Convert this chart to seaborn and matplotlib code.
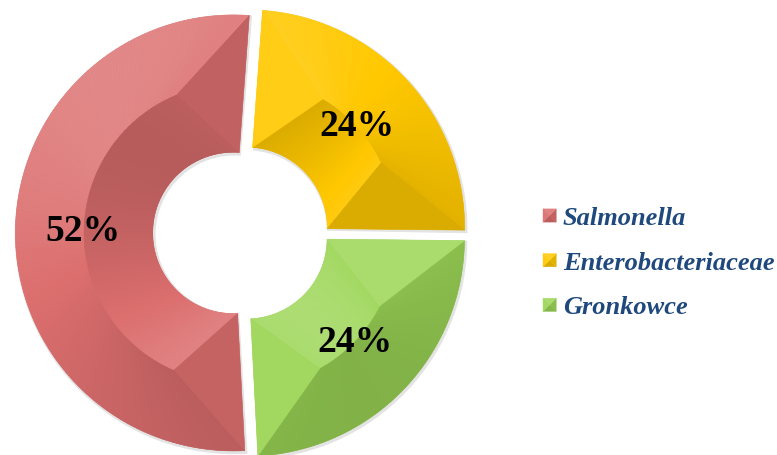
import numpy as np
import matplotlib
matplotlib.use("Agg")
import matplotlib.pyplot as plt
from matplotlib.patches import Polygon, Wedge
from matplotlib.colors import to_rgb
from matplotlib.legend_handler import HandlerBase
import seaborn as sns

# dane
categories = ["Salmonella", "Enterobacteriaceae", "Gronkowce"]
shares = [52, 24, 24]
colors = ["#DC6E6E", "#FFC800", "#9CD656"]

sns.set_theme(style="white")
plt.rcParams["font.family"] = ["Liberation Serif", "DejaVu Serif"]

LIGHT = np.array([-0.4, 0.6, 0.7])
LIGHT = LIGHT / np.linalg.norm(LIGHT)
TILT = np.radians(42)


def shade(base, nx, ny):
    n = np.array([nx * np.sin(TILT), ny * np.sin(TILT), np.cos(TILT)])
    k = 0.82 + 0.28 * max(n @ LIGHT, 0)
    rgb = np.array(to_rgb(base))
    if k <= 1:
        return tuple(rgb * k)
    return tuple(rgb + (1 - rgb) * (k - 1) * 1.8)


def pt(c, r, a):
    a = np.radians(a)
    return (c[0] + r * np.cos(a), c[1] + r * np.sin(a))


def bevel(ax, w, base):
    c, r_out, t1, t2 = w.center, w.r, w.theta1, w.theta2
    r_in = r_out - w.width
    rm = (r_out + r_in) / 2
    d = np.degrees((w.width / 2) / rm)
    n = max(int(t2 - t1), 10)
    a = np.linspace(t1, t2, n + 1)
    b = np.linspace(t1 + d, t2 - d, n + 1)
    for i in range(n):
        phi = np.radians((a[i] + a[i + 1]) / 2)
        # zewnetrzna sciana
        col = shade(base, np.cos(phi), np.sin(phi))
        ax.add_patch(Polygon([pt(c, r_out, a[i]), pt(c, r_out, a[i + 1]),
                              pt(c, rm, b[i + 1]), pt(c, rm, b[i])],
                             fc=col, ec=col, lw=0.4))
        # wewnetrzna sciana
        col = shade(base, -np.cos(phi), -np.sin(phi))
        ax.add_patch(Polygon([pt(c, r_in, a[i]), pt(c, r_in, a[i + 1]),
                              pt(c, rm, b[i + 1]), pt(c, rm, b[i])],
                             fc=col, ec=col, lw=0.4))
    # trojkaty na koncach
    p1 = np.radians(t1)
    col = shade(base, np.sin(p1), -np.cos(p1))
    ax.add_patch(Polygon([pt(c, r_out, t1), pt(c, r_in, t1), pt(c, rm, t1 + d)],
                         fc=col, ec=col, lw=0.4))
    p2 = np.radians(t2)
    col = shade(base, -np.sin(p2), np.cos(p2))
    ax.add_patch(Polygon([pt(c, r_out, t2), pt(c, r_in, t2), pt(c, rm, t2 - d)],
                         fc=col, ec=col, lw=0.4))


class BevelHandler(HandlerBase):
    def create_artists(self, legend, orig_handle, xdescent, ydescent,
                       width, height, fontsize, trans):
        base = orig_handle.get_facecolor()[:3]
        s = min(width, height)
        x0 = -xdescent
        y0 = -ydescent + (height - s) / 2
        cxy = (x0 + s / 2, y0 + s / 2)
        corners = [(x0, y0), (x0 + s, y0), (x0 + s, y0 + s), (x0, y0 + s)]
        normals = [(0, -1), (1, 0), (0, 1), (-1, 0)]
        arts = []
        for i, (nx, ny) in enumerate(normals):
            col = shade(base, nx, ny)
            p = Polygon([corners[i], corners[(i + 1) % 4], cxy],
                        fc=col, ec=col, lw=0.3, transform=trans)
            arts.append(p)
        return arts


fig = plt.figure(figsize=(7.77, 4.55), dpi=100)
ax = fig.add_axes([0, 0, 1, 1])

R = 218
cx, cy = 241, 233

wedges, texts, autotexts = ax.pie(
    shares, colors=colors, startangle=273, counterclock=False,
    explode=[0.035] * 3, radius=1,
    wedgeprops=dict(width=0.63, linewidth=0),
    autopct="%.0f%%", pctdistance=0.69,
    textprops=dict(fontsize=27, fontweight="bold", color="black",
                   family="Liberation Serif"))

for w, col in zip(wedges, colors):
    sh = Wedge((w.center[0] + 0.005, w.center[1] - 0.007), w.r + 0.008,
               w.theta1 - 0.4, w.theta2 + 0.4, width=w.width + 0.016,
               fc="#909090", ec="none", alpha=0.25, zorder=0.5)
    ax.add_patch(sh)
    bevel(ax, w, col)

for t in autotexts:
    t.set_zorder(5)

ax.set_xlim(-cx / R, (777 - cx) / R)
ax.set_ylim(-(455 - cy) / R, cy / R)
ax.axis("off")

ax.legend(wedges, categories, loc="center left",
          bbox_to_anchor=(543 / 777, (455 - 263) / 455),
          bbox_transform=fig.transFigure, frameon=False,
          borderpad=0, borderaxespad=0, handlelength=0.5, handleheight=0.5,
          handletextpad=0.25, labelspacing=0.82,
          prop=dict(family="Liberation Serif", style="italic",
                    weight="bold", size=19),
          labelcolor="#1F497D",
          handler_map={type(wedges[0]): BevelHandler()})

fig.savefig("out.png", dpi=100)
